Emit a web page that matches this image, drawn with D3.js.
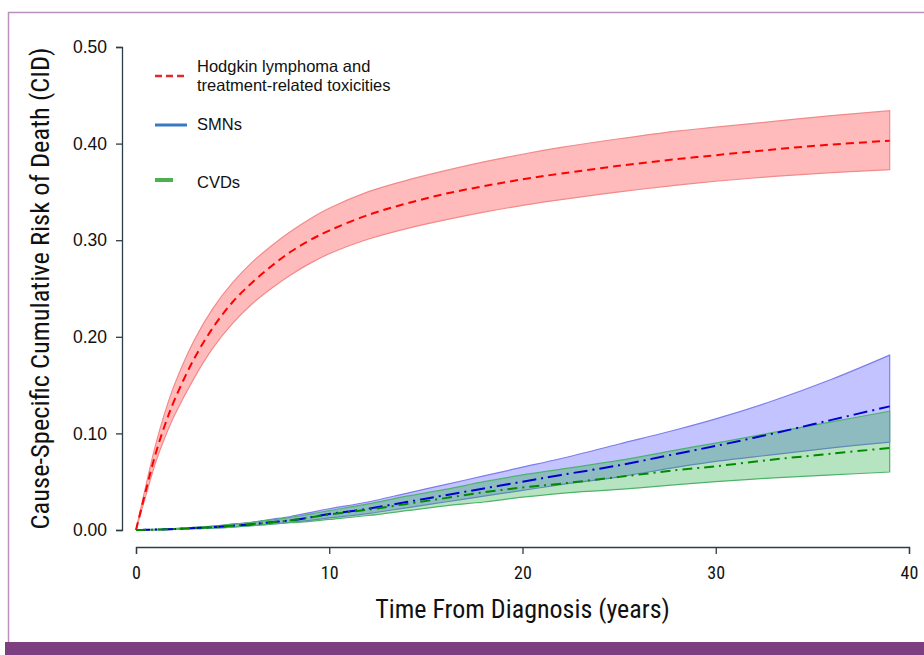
<!DOCTYPE html>
<html lang="en">
<head>
<script src="https://d3js.org/d3.v7.min.js"></script>
<style>
  body { margin: 0; background: #fff; }
  .cond { font-family: "Liberation Sans Narrow", "Roboto Condensed", "DejaVu Sans Condensed", sans-serif; font-stretch: condensed; }
</style>
</head>
<body>
<script>
var width = 924, height = 655;

// time points (years)
var years = [0, 0.5, 1, 1.5, 2, 3, 4, 5, 6, 7, 8, 9, 10, 12, 14, 16, 18, 20, 22, 25, 28, 30, 33, 36, 39];

// Hodgkin lymphoma and treatment-related toxicities
var hlMean  = [0, 0.040, 0.078, 0.109, 0.135, 0.177, 0.210, 0.236, 0.256, 0.273, 0.288, 0.300, 0.310, 0.326, 0.338, 0.348, 0.356, 0.363, 0.369, 0.377, 0.384, 0.388, 0.394, 0.399, 0.403];
var hlUpper = [0, 0.045, 0.087, 0.122, 0.151, 0.196, 0.230, 0.256, 0.277, 0.294, 0.309, 0.322, 0.333, 0.350, 0.362, 0.372, 0.381, 0.389, 0.396, 0.405, 0.413, 0.417, 0.423, 0.429, 0.434];
var hlLower = [0, 0.035, 0.069, 0.096, 0.119, 0.157, 0.189, 0.214, 0.234, 0.250, 0.264, 0.276, 0.286, 0.301, 0.312, 0.321, 0.329, 0.336, 0.342, 0.350, 0.357, 0.361, 0.366, 0.370, 0.373];

// SMNs
var smnMean  = [0, 0.0002, 0.0004, 0.0007, 0.001, 0.002, 0.003, 0.0045, 0.006, 0.008, 0.010, 0.013, 0.0165, 0.022, 0.029, 0.036, 0.043, 0.050, 0.057, 0.067, 0.079, 0.087, 0.100, 0.114, 0.128];
var smnUpper = [0, 0.0003, 0.0006, 0.001, 0.0015, 0.0027, 0.004, 0.006, 0.008, 0.011, 0.014, 0.018, 0.022, 0.029, 0.038, 0.047, 0.056, 0.065, 0.074, 0.089, 0.104, 0.115, 0.134, 0.156, 0.181];
var smnLower = [0, 0.0001, 0.0002, 0.0004, 0.0007, 0.0013, 0.002, 0.003, 0.0045, 0.006, 0.008, 0.010, 0.0125, 0.017, 0.023, 0.029, 0.035, 0.041, 0.047, 0.055, 0.065, 0.071, 0.078, 0.085, 0.091];

// CVDs
var cvdMean  = [0, 0.0002, 0.0004, 0.0007, 0.001, 0.002, 0.003, 0.0045, 0.006, 0.008, 0.010, 0.013, 0.016, 0.021, 0.027, 0.033, 0.039, 0.044, 0.048, 0.055, 0.062, 0.066, 0.073, 0.079, 0.085];
var cvdUpper = [0, 0.0003, 0.0006, 0.001, 0.0015, 0.0027, 0.004, 0.006, 0.008, 0.0105, 0.013, 0.0165, 0.020, 0.027, 0.035, 0.042, 0.050, 0.057, 0.063, 0.072, 0.083, 0.090, 0.101, 0.112, 0.123];
var cvdLower = [0, 0.0001, 0.0002, 0.0004, 0.0007, 0.0013, 0.002, 0.003, 0.0045, 0.006, 0.0075, 0.009, 0.011, 0.015, 0.020, 0.025, 0.029, 0.034, 0.038, 0.042, 0.047, 0.050, 0.054, 0.057, 0.060];

var xTicks = [0, 10, 20, 30, 40];
var yTicks = [0, 0.1, 0.2, 0.3, 0.4, 0.5];

var svg = d3.select('body').append('svg').attr('width', width).attr('height', height);

// frame and bottom bar
svg.append('path').attr('d', 'M8.5,642V12.5H924').attr('fill', 'none').attr('stroke', '#b892bd').attr('stroke-width', 1.5);
svg.append('rect').attr('x', 5).attr('y', 642).attr('width', width - 5).attr('height', 13).attr('fill', '#7d3f80');

var x = d3.scaleLinear().domain([0, 40]).range([136, 909]);
var y = d3.scaleLinear().domain([0, 0.5]).range([530, 47]);

// axes
var yAxis = svg.append('g').attr('transform', 'translate(122,0)')
    .call(d3.axisLeft(y).tickValues(yTicks).tickFormat(d3.format('.2f')).tickSize(6).tickPadding(9));
yAxis.selectAll('text').attr('font-family', 'Arial, "Liberation Sans", sans-serif').attr('font-size', 17.5).attr('fill', '#111');
yAxis.selectAll('path,line').attr('stroke', '#2e3d45').attr('stroke-width', 1.3);

var xAxis = svg.append('g').attr('transform', 'translate(0,547)')
    .call(d3.axisBottom(x).tickValues(xTicks).tickSize(7).tickPadding(12));
xAxis.selectAll('text').attr('class', 'cond').attr('font-size', 18).attr('fill', '#111');
xAxis.selectAll('path,line').attr('stroke', '#2e3d45').attr('stroke-width', 1.3);

svg.append('text').attr('class', 'cond')
    .attr('x', x(20)).attr('y', 618).attr('text-anchor', 'middle')
    .attr('font-size', 26).attr('fill', '#111')
    .text('Time From Diagnosis (years)');

svg.append('text').attr('class', 'cond')
    .attr('transform', 'translate(49,' + y(0.25) + ') rotate(-90)').attr('text-anchor', 'middle')
    .attr('font-size', 26.5).attr('fill', '#111')
    .text('Cause-Specific Cumulative Risk of Death (CID)');

// bands and lines
var series = [
    { mean: hlMean, upper: hlUpper, lower: hlLower, fill: 'rgba(255,60,60,0.35)', edge: '#f28a8a', line: '#ff0000', dash: '8,5' },
    { mean: smnMean, upper: smnUpper, lower: smnLower, fill: 'rgba(40,40,255,0.28)', edge: '#7d7df0', line: '#0000d0', dash: '14,5,2,5' },
    { mean: cvdMean, upper: cvdUpper, lower: cvdLower, fill: 'rgba(30,170,60,0.32)', edge: '#4db36b', line: '#008a00', dash: '10,5,2,5' }
];

var curve = d3.curveCatmullRom.alpha(0.5);
var area = d3.area().x(function(d) { return x(d.t); }).y0(function(d) { return y(d.lo); }).y1(function(d) { return y(d.hi); }).curve(curve);
var line = d3.line().x(function(d) { return x(d.t); }).y(function(d) { return y(d.v); }).curve(curve);

series.forEach(function(s) {
    var band = years.map(function(t, i) { return { t: t, lo: s.lower[i], hi: s.upper[i] }; });
    svg.append('path').datum(band).attr('d', area).attr('fill', s.fill).attr('stroke', s.edge).attr('stroke-width', 1.2);
});
series.forEach(function(s) {
    var pts = years.map(function(t, i) { return { t: t, v: s.mean[i] }; });
    svg.append('path').datum(pts).attr('d', line).attr('fill', 'none')
        .attr('stroke', s.line).attr('stroke-width', 2).attr('stroke-dasharray', s.dash);
});

// legend
var legend = svg.append('g').attr('font-family', 'Arial, "Liberation Sans", sans-serif').attr('font-size', 16.5).attr('fill', '#111');
legend.append('line').attr('x1', 155).attr('x2', 188).attr('y1', 76).attr('y2', 76)
    .attr('stroke', '#e8262a').attr('stroke-width', 2.5).attr('stroke-dasharray', '7,4');
legend.append('text').attr('x', 197).attr('y', 72).text('Hodgkin lymphoma and');
legend.append('text').attr('x', 197).attr('y', 91).text('treatment-related toxicities');
legend.append('line').attr('x1', 155).attr('x2', 187).attr('y1', 125).attr('y2', 125)
    .attr('stroke', '#3a78c4').attr('stroke-width', 3);
legend.append('text').attr('x', 197).attr('y', 130).text('SMNs');
legend.append('line').attr('x1', 155).attr('x2', 173).attr('y1', 180).attr('y2', 180)
    .attr('stroke', '#4caf50').attr('stroke-width', 4);
legend.append('text').attr('x', 197).attr('y', 188).text('CVDs');
</script>
</body>
</html>
